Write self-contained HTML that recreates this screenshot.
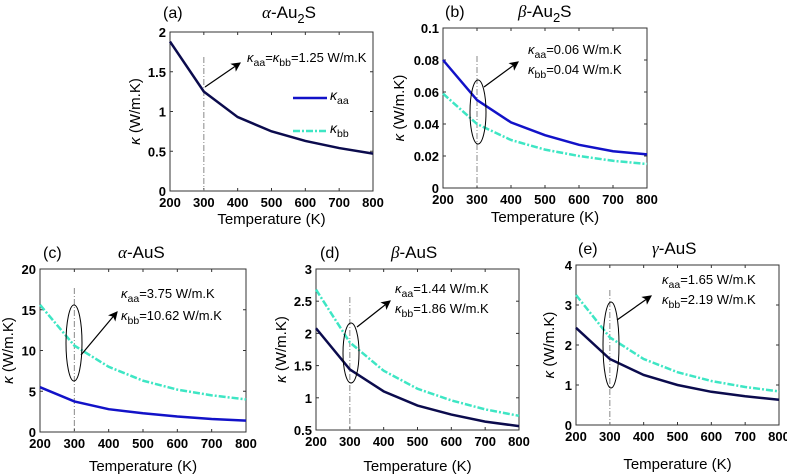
<!DOCTYPE html>
<html><head><meta charset="utf-8"><style>
body{margin:0;background:#fff;}
svg{display:block;font-family:"Liberation Sans",sans-serif;}
</style></head><body>
<svg id="fig" width="787" height="476" viewBox="0 0 787 476">
<defs><marker id="arr" markerWidth="8" markerHeight="8" refX="7" refY="4" orient="auto"><path d="M0,0 L8,4 L0,8 L2,4 Z" fill="#000"/></marker></defs>
</svg>
<script>
const temps=[200,300,400,500,600,700,800];
const aA=[1.88,1.25,0.93,0.75,0.63,0.54,0.47], aB=[1.88,1.25,0.93,0.75,0.63,0.54,0.47];
const bA=[0.080,0.055,0.041,0.033,0.027,0.023,0.021], bB=[0.059,0.040,0.030,0.024,0.020,0.017,0.015];
const cA=[5.5,3.75,2.8,2.3,1.9,1.6,1.4], cB=[15.6,10.6,8.0,6.3,5.2,4.5,4.0];
const dA=[2.08,1.44,1.10,0.88,0.74,0.63,0.56], dB=[2.68,1.86,1.42,1.14,0.96,0.82,0.72];
const eA=[2.43,1.65,1.25,1.0,0.83,0.72,0.63], eB=[3.25,2.19,1.65,1.32,1.10,0.95,0.84];
const yTicksA=[0,0.5,1,1.5,2], yTicksB=[0,0.02,0.04,0.06,0.08,0.1], yTicksC=[0,5,10,15,20], yTicksD=[0.5,1,1.5,2,2.5,3], yTicksE=[0,1,2,3,4];
const xTicks=[200,300,400,500,600,700,800];
const NS="http://www.w3.org/2000/svg", svg=document.getElementById('fig');
function mk(t,a,p){const e=document.createElementNS(NS,t);for(const k in a)e.setAttribute(k,a[k]);(p||svg).appendChild(e);return e;}
const navy="#0b0b4d", blue="#1212c8", aqua="#3ee6c4";
const K=s=>`<tspan font-style="italic">κ</tspan><tspan dy="4" font-size="10.5">${s}</tspan><tspan dy="-4">`;
const panels=[
 {id:'a',x0:170,x1:373,y0:32,y1:191,ymin:0,ymax:2,yt:yTicksA,ya:aA,yb:aB,ca:navy,showB:false,lab:'(a)',labx:163,g:'α',f:'Au',sub:'2',tx:262,ty:18,ylx:140,xly:224,vtop:57,ell:null,arr:[205,87,240,63],t1:[247,62,K('aa')+'=</tspan>'+K('bb')+'=1.25 W/m.K</tspan>'],t2:null},
 {id:'b',x0:443,x1:647,y0:28,y1:188,ymin:0,ymax:0.1,yt:yTicksB,ya:bA,yb:bB,ca:blue,showB:true,lab:'(b)',labx:445,g:'β',f:'Au',sub:'2',tx:518,ty:17,ylx:404,xly:222,vtop:56,ell:[478,112,8,32],arr:[484,87,518,62],t1:[528,54,K('aa')+'=0.06 W/m.K</tspan>'],t2:[528,74,K('bb')+'=0.04 W/m.K</tspan>']},
 {id:'c',x0:40,x1:246,y0:269,y1:432,ymin:0,ymax:20,yt:yTicksC,ya:cA,yb:cB,ca:blue,showB:true,lab:'(c)',labx:43,g:'α',f:'AuS',sub:'',tx:118,ty:258,ylx:13,xly:471,vtop:288,ell:[74,343,8,38],arr:[81,355,117,312],t1:[121,298,K('aa')+'=3.75 W/m.K</tspan>'],t2:[121,320,K('bb')+'=10.62 W/m.K</tspan>']},
 {id:'d',x0:316,x1:519,y0:269,y1:430,ymin:0.5,ymax:3,yt:yTicksD,ya:dA,yb:dB,ca:navy,showB:true,lab:'(d)',labx:320,g:'β',f:'AuS',sub:'',tx:391,ty:258,ylx:286,xly:471,vtop:297,ell:[351,353,8,30],arr:[357,327,390,301],t1:[395,293,K('aa')+'=1.44 W/m.K</tspan>'],t2:[395,313,K('bb')+'=1.86 W/m.K</tspan>']},
 {id:'e',x0:576,x1:779,y0:265,y1:425,ymin:0,ymax:4,yt:yTicksE,ya:eA,yb:eB,ca:navy,showB:true,lab:'(e)',labx:578,g:'γ',f:'AuS',sub:'',tx:652,ty:254,ylx:554,xly:469,vtop:290,ell:[611,345,8,43],arr:[617,320,651,296],t1:[662,284,K('aa')+'=1.65 W/m.K</tspan>'],t2:[662,304,K('bb')+'=2.19 W/m.K</tspan>']}
];
panels.forEach(P=>{
 const g=mk('g',{});
 
 
 const X=v=>P.x0+(v-200)/600*(P.x1-P.x0);
 const Y=v=>P.y1-(v-P.ymin)/(P.ymax-P.ymin)*(P.y1-P.y0);
 const box=mk('rect',{x:P.x0,y:P.y0,width:P.x1-P.x0,height:P.y1-P.y0,fill:'none',stroke:'#333','stroke-width':1},g);
 
 xTicks.forEach(v=>{const x=X(v);
  mk('line',{x1:x,x2:x,y1:P.y1,y2:P.y1-3,stroke:'#333'},g);mk('line',{x1:x,x2:x,y1:P.y0,y2:P.y0+3,stroke:'#333'},g);
  const t=mk('text',{x:x,y:P.y1+16,'text-anchor':'middle','font-size':13,'font-weight':'bold'},g);t.textContent=v;
  });
 P.yt.forEach(v=>{const y=Y(v);
  mk('line',{x1:P.x0,x2:P.x0+3,y1:y,y2:y,stroke:'#333'},g);mk('line',{x1:P.x1,x2:P.x1-3,y1:y,y2:y,stroke:'#333'},g);
  const t=mk('text',{x:P.x0-4,y:y+5,'text-anchor':'end','font-size':13,'font-weight':'bold'},g);t.textContent=String(v);
  });
 const xl=mk('text',{x:(P.x0+P.x1)/2,y:P.xly,'text-anchor':'middle','font-size':15},g);xl.textContent='Temperature (K)';
 
 const yl=mk('text',{x:0,y:0,'text-anchor':'middle','font-size':15,transform:`translate(${P.ylx},${(P.y0+P.y1)/2}) rotate(-90)`},g);
 yl.innerHTML='<tspan font-style="italic">κ</tspan> (W/m.K)';
 
 const lb=mk('text',{x:P.labx,y:P.ty,'font-size':16},g);lb.textContent=P.lab;
 
 const ti=mk('text',{x:P.tx,y:P.ty,'font-size':17},g);
 ti.innerHTML=`<tspan font-family="Liberation Serif" font-style="italic">${P.g}</tspan>-${P.f}`+(P.sub?`<tspan dy="5" font-size="13">${P.sub}</tspan><tspan dy="-5">S</tspan>`:'');
 
 const vl=mk('line',{x1:X(300),x2:X(300),y1:P.vtop,y2:P.y1,stroke:'#888','stroke-width':1,'stroke-dasharray':'6,2,1,2'},g);
 
 if(P.showB){const pb=mk('polyline',{points:temps.map((t,i)=>X(t)+','+Y(P.yb[i])).join(' '),fill:'none',stroke:aqua,'stroke-width':2.5,'stroke-dasharray':'7,2,2,2'},g);
  }
 const pa=mk('polyline',{points:temps.map((t,i)=>X(t)+','+Y(P.ya[i])).join(' '),fill:'none',stroke:P.ca,'stroke-width':2.5},g);
 
 if(P.ell){const e=mk('ellipse',{cx:P.ell[0],cy:P.ell[1],rx:P.ell[2],ry:P.ell[3],fill:'none',stroke:'#000','stroke-width':1},g);
  }
 const ar=mk('line',{x1:P.arr[0],y1:P.arr[1],x2:P.arr[2],y2:P.arr[3],stroke:'#000','stroke-width':1.2,'marker-end':'url(#arr)'},g);
 
 const t1=mk('text',{x:P.t1[0],y:P.t1[1],'font-size':13},g);t1.innerHTML=P.t1[2];
 
 if(P.t2){const t2=mk('text',{x:P.t2[0],y:P.t2[1],'font-size':13},g);t2.innerHTML=P.t2[2];
  }
 if(P.id==='a'){
  const lg=mk('g',{},g);
  
  mk('line',{x1:293,x2:327,y1:98,y2:98,stroke:blue,'stroke-width':2.5},lg);
  const l1=mk('text',{x:330,y:100,'font-size':14},lg);l1.innerHTML=K('aa')+'</tspan>';
  
  mk('line',{x1:293,x2:327,y1:131,y2:131,stroke:aqua,'stroke-width':2.5,'stroke-dasharray':'7,2,2,2'},lg);
  const l2=mk('text',{x:330,y:133,'font-size':14},lg);l2.innerHTML=K('bb')+'</tspan>';
  
 }
});
</script>
</body></html>
